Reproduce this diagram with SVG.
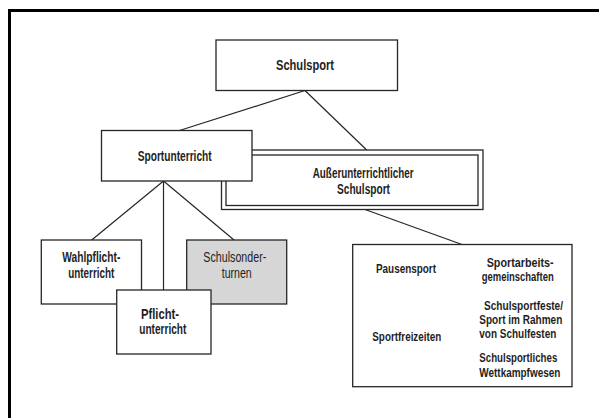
<svg xmlns="http://www.w3.org/2000/svg" width="599" height="418" viewBox="0 0 599 418">
<style>
.box{fill:#fff;stroke:#262626;stroke-width:1.3}
.gray{fill:#d6d6d6;stroke:#262626;stroke-width:1.3}
.ln{fill:none;stroke:#262626;stroke-width:1.2}
.t{font-family:"Liberation Sans","Arial",sans-serif;font-weight:bold;font-size:14px;fill:#1e1e1e}
.tn{font-family:"Liberation Sans","Arial",sans-serif;font-weight:normal;font-size:14px;fill:#1e1e1e}
.ts{font-family:"Liberation Sans","Arial",sans-serif;font-weight:bold;font-size:12.5px;fill:#1e1e1e}
</style>
<rect width="599" height="418" fill="#fff"/>
<g id="frame">
<rect x="8" y="9" width="591" height="3" fill="#000"/>
<rect x="8" y="9" width="3" height="409" fill="#000"/>
</g>
<g id="connectors">
<line class="ln" x1="305" y1="90.5" x2="179.5" y2="130.5"/>
<line class="ln" x1="305" y1="90.5" x2="366.7" y2="150"/>
<line class="ln" x1="163.5" y1="181" x2="91.7" y2="240"/>
<line class="ln" x1="163.5" y1="181" x2="163.5" y2="290"/>
<line class="ln" x1="163.5" y1="181" x2="234" y2="240"/>
<line class="ln" x1="365" y1="209.5" x2="462" y2="244.5"/>
</g>
<g id="schulsport">
<rect class="box" x="216" y="40" width="181.5" height="50.5"/>
<text class="t" style="font-size:15px" x="276" y="70" textLength="58" lengthAdjust="spacingAndGlyphs">Schulsport</text>
</g>
<g id="ausserunterrichtlicher">
<rect class="box" x="221.5" y="150" width="261.5" height="59.5"/>
<rect class="box" x="226" y="155" width="252" height="50.5"/>
<text class="t" x="312.7" y="178.3" textLength="101" lengthAdjust="spacingAndGlyphs">Außerunterrichtlicher</text>
<text class="t" x="337" y="194" textLength="53" lengthAdjust="spacingAndGlyphs">Schulsport</text>
</g>
<g id="sportunterricht">
<rect class="box" x="101.5" y="130.5" width="150.5" height="50.5"/>
<text class="t" x="137.7" y="160.7" textLength="74" lengthAdjust="spacingAndGlyphs">Sportunterricht</text>
</g>
<g id="wahlpflicht">
<rect class="box" x="41.3" y="240" width="100.2" height="64"/>
<text class="t" x="62.3" y="262.3" textLength="58" lengthAdjust="spacingAndGlyphs">Wahlpflicht-</text>
<text class="t" x="68.3" y="277.7" textLength="46" lengthAdjust="spacingAndGlyphs">unterricht</text>
</g>
<g id="schulsonderturnen">
<rect class="gray" x="186.7" y="240" width="100" height="64"/>
<text class="tn" x="203.3" y="262.3" textLength="63" lengthAdjust="spacingAndGlyphs">Schulsonder-</text>
<text class="tn" x="221.7" y="277.7" textLength="30" lengthAdjust="spacingAndGlyphs">turnen</text>
</g>
<g id="pflicht">
<rect class="box" x="116.7" y="290" width="94.3" height="64"/>
<text class="t" x="141" y="319.3" textLength="38" lengthAdjust="spacingAndGlyphs">Pflicht-</text>
<text class="t" x="139.3" y="334.3" textLength="47" lengthAdjust="spacingAndGlyphs">unterricht</text>
</g>
<g id="formen">
<rect class="box" x="352.7" y="244.5" width="219.3" height="142.2"/>
<text class="ts" x="376" y="272.7" textLength="60" lengthAdjust="spacingAndGlyphs">Pausensport</text>
<text class="ts" x="372.3" y="341" textLength="69" lengthAdjust="spacingAndGlyphs">Sportfreizeiten</text>
<text class="ts" x="486.7" y="266.7" textLength="67" lengthAdjust="spacingAndGlyphs">Sportarbeits-</text>
<text class="ts" x="481.7" y="280.5" textLength="72" lengthAdjust="spacingAndGlyphs">gemeinschaften</text>
<text class="ts" x="484" y="309.5" textLength="79" lengthAdjust="spacingAndGlyphs">Schulsportfeste/</text>
<text class="ts" x="479.3" y="323.5" textLength="83" lengthAdjust="spacingAndGlyphs">Sport im Rahmen</text>
<text class="ts" x="479.3" y="337.5" textLength="77" lengthAdjust="spacingAndGlyphs">von Schulfesten</text>
<text class="ts" x="479.3" y="361.7" textLength="78" lengthAdjust="spacingAndGlyphs">Schulsportliches</text>
<text class="ts" x="479.3" y="376.7" textLength="81" lengthAdjust="spacingAndGlyphs">Wettkampfwesen</text>
</g>
</svg>
